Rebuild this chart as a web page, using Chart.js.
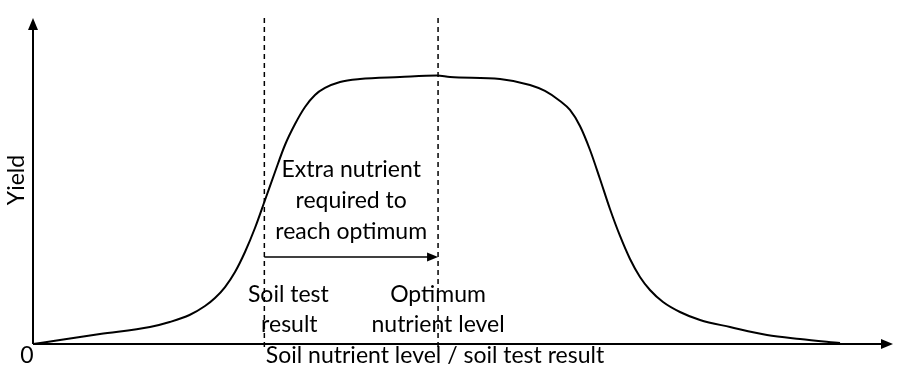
<!DOCTYPE html>
<html>
<head>
<meta charset="utf-8">
<script src="https://cdn.jsdelivr.net/npm/chart.js@4/dist/chart.umd.min.js"></script>
<style>
  html, body { margin: 0; padding: 0; background: #fff; }
  #wrap { width: 912px; height: 380px; }
</style>
</head>
<body>
<div id="wrap"><canvas id="chart1"></canvas></div>
<script>
// ===== Data =====
const nutrientLevel = [0, 3.14, 7.79, 13.6, 15.9, 18.2, 20.0, 21.16, 22.33, 23.49, 24.65, 25.81, 26.98, 28.14, 29.3, 30.47, 31.63, 32.79, 33.95, 35.7, 38.02, 42.67, 46.98, 48.49, 54.3, 57.79, 59.53, 61.28, 62.44, 63.6, 64.77, 65.93, 67.09, 68.26, 69.42, 70.58, 71.74, 73.26, 75.23, 77.56, 81.05, 85.35, 89.19, 93.84];
const yieldValue   = [0, 1.23, 3.07, 5.21, 6.75, 8.9, 11.66, 14.11, 17.48, 22.09, 28.22, 35.58, 44.17, 52.76, 61.04, 67.48, 72.7, 76.38, 78.53, 80.37, 81.29, 81.9, 82.36, 81.9, 81.29, 79.45, 77.61, 74.54, 71.78, 66.87, 59.51, 50.61, 41.41, 33.13, 26.07, 20.55, 16.56, 12.88, 9.82, 7.36, 5.21, 2.76, 1.53, 0.31];

const soilTest = 26.9;      // dashed line 1
const optimum = 47.1;       // dashed line 2
const dashedRange = [100, -2];
const arrowYield = 26.7;

const xMax = 100;
const yMax = 100;

const curve = nutrientLevel.map((x, i) => ({ x: x, y: yieldValue[i] }));

// ===== Plugin: axes, arrows and text =====
const drawExtras = {
    id: "drawExtras",
    afterDatasetsDraw(chart) {
        const ctx = chart.ctx;
        const xs = chart.scales.x;
        const ys = chart.scales.y;
        const x0 = xs.getPixelForValue(0);
        const y0 = ys.getPixelForValue(0);

        ctx.save();
        ctx.strokeStyle = "#000";
        ctx.fillStyle = "#000";
        ctx.lineWidth = 2;

        // axes
        ctx.beginPath();
        ctx.moveTo(x0, y0);
        ctx.lineTo(x0, ys.getPixelForValue(yMax) + 8);
        ctx.moveTo(x0, y0);
        ctx.lineTo(xs.getPixelForValue(xMax) - 8, y0);
        ctx.stroke();

        // axis arrow heads
        let tipY = ys.getPixelForValue(yMax);
        ctx.beginPath();
        ctx.moveTo(x0, tipY);
        ctx.lineTo(x0 - 5, tipY + 12);
        ctx.lineTo(x0 + 5, tipY + 12);
        ctx.closePath();
        ctx.fill();

        let tipX = xs.getPixelForValue(xMax);
        ctx.beginPath();
        ctx.moveTo(tipX, y0);
        ctx.lineTo(tipX - 12, y0 - 5);
        ctx.lineTo(tipX - 12, y0 + 5);
        ctx.closePath();
        ctx.fill();

        // extra nutrient arrow head
        let ax = xs.getPixelForValue(optimum);
        let ay = ys.getPixelForValue(arrowYield);
        ctx.beginPath();
        ctx.moveTo(ax, ay);
        ctx.lineTo(ax - 11, ay - 4.5);
        ctx.lineTo(ax - 11, ay + 4.5);
        ctx.closePath();
        ctx.fill();

        // text
        ctx.font = "23px Lato";
        ctx.textAlign = "center";
        ctx.textBaseline = "middle";
        const mid = (soilTest + optimum) / 2;
        ctx.fillText("Extra nutrient", xs.getPixelForValue(mid), 170);
        ctx.fillText("required to", xs.getPixelForValue(mid), 201);
        ctx.fillText("reach optimum", xs.getPixelForValue(mid), 232);
        ctx.fillText("Soil test", xs.getPixelForValue(soilTest) + 24, 295);
        ctx.fillText("result", xs.getPixelForValue(soilTest) + 25, 325);
        ctx.fillText("Optimum", xs.getPixelForValue(optimum), 295);
        ctx.fillText("nutrient level", xs.getPixelForValue(optimum), 325);
        ctx.fillText("0", x0 - 6, 356);
        ctx.fillText("Soil nutrient level / soil test result", 435, 356);

        ctx.translate(17, 180);
        ctx.rotate(-Math.PI / 2);
        ctx.fillText("Yield", 0, 0);
        ctx.restore();
    }
};

// ===== Chart =====
const dashed = {
    borderColor: "#000",
    borderWidth: 1.5,
    borderDash: [5, 4],
    pointRadius: 0,
    tension: 0
};

new Chart(document.getElementById("chart1"), {
    type: "line",
    data: {
        datasets: [
            {
                data: curve,
                borderColor: "#000",
                borderWidth: 2,
                pointRadius: 0,
                cubicInterpolationMode: "monotone"
            },
            Object.assign({ data: dashedRange.map(v => ({ x: soilTest, y: v })) }, dashed),
            Object.assign({ data: dashedRange.map(v => ({ x: optimum, y: v })) }, dashed),
            {
                data: [{ x: soilTest, y: arrowYield }, { x: optimum - 1, y: arrowYield }],
                borderColor: "#000",
                borderWidth: 1.5,
                pointRadius: 0
            }
        ]
    },
    options: {
        responsive: true,
        maintainAspectRatio: false,
        animation: false,
        layout: { padding: { left: 33, right: 19, top: 18, bottom: 19.7 } },
        plugins: { legend: { display: false }, tooltip: { enabled: false } },
        scales: {
            x: { type: "linear", min: 0, max: xMax, display: false },
            y: { type: "linear", min: -5, max: yMax, display: false }
        }
    },
    plugins: [drawExtras]
});
</script>
</body>
</html>
